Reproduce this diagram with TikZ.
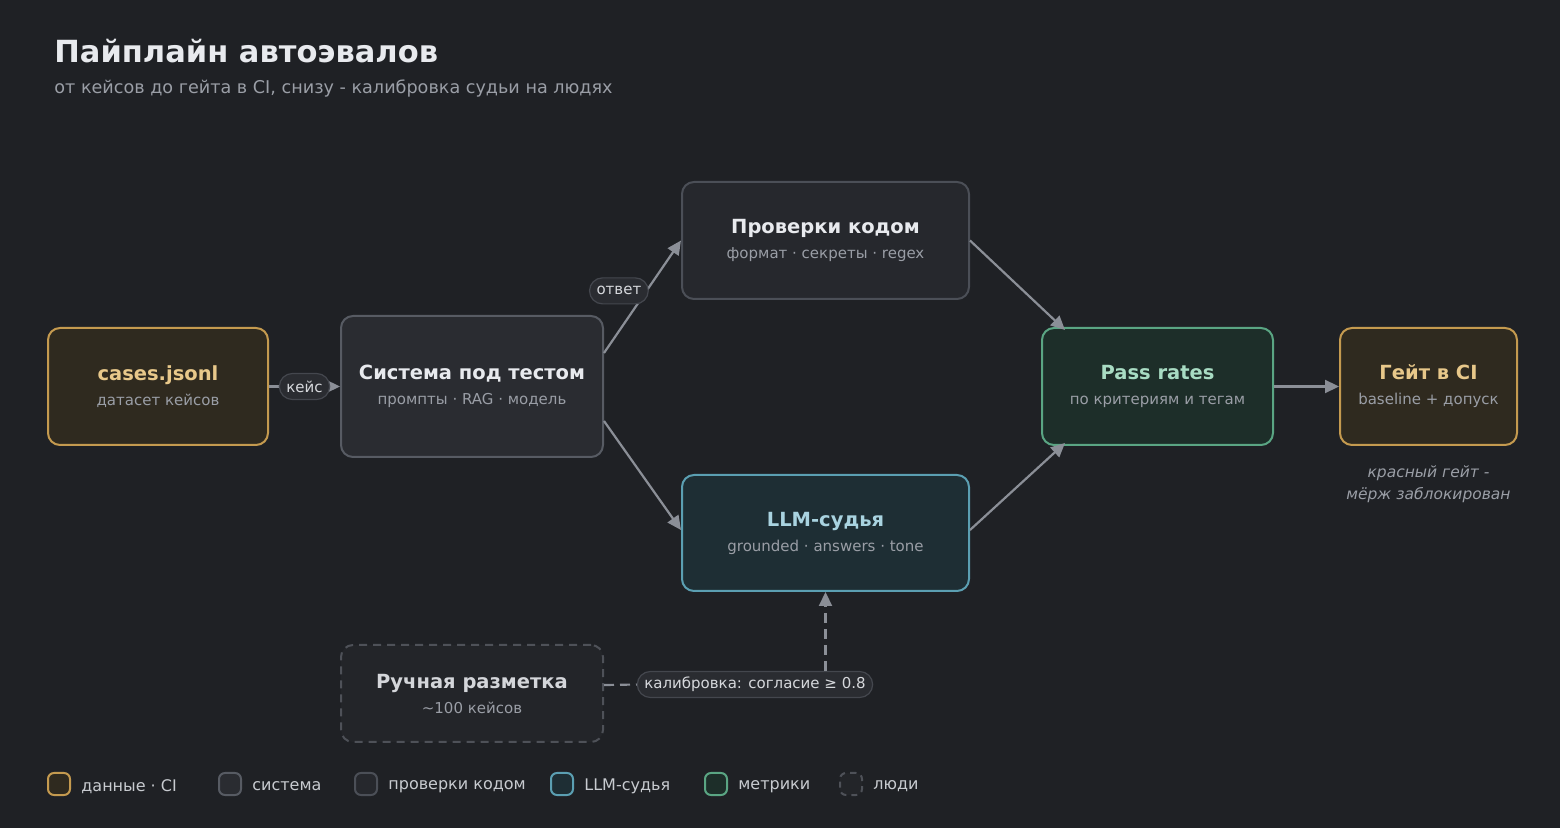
\documentclass[tikz,border=0pt]{standalone}
\usepackage{fontspec}
\setmainfont{DejaVu Sans}
\usepackage{xcolor}
\usepackage{tikz}
\usetikzlibrary{arrows.meta,positioning,calc}
\definecolor{eval-bg}{HTML}{1F2125}
\definecolor{eval-text}{HTML}{E8EAEE}
\definecolor{eval-sub}{HTML}{9A9EA6}
\definecolor{eval-line}{HTML}{8B8F97}
\definecolor{data-fill}{HTML}{2F2A1F}
\definecolor{data-draw}{HTML}{C49A4F}
\definecolor{data-text}{HTML}{E8C88A}
\definecolor{sys-fill}{HTML}{2A2C31}
\definecolor{sys-draw}{HTML}{575B63}
\definecolor{check-fill}{HTML}{26282D}
\definecolor{check-draw}{HTML}{4B4F57}
\definecolor{judge-fill}{HTML}{1E2E34}
\definecolor{judge-draw}{HTML}{5B9FB2}
\definecolor{judge-text}{HTML}{A9D3E0}
\definecolor{metric-fill}{HTML}{1D2E29}
\definecolor{metric-draw}{HTML}{5AA583}
\definecolor{metric-text}{HTML}{A8DCC3}
\definecolor{human-fill}{HTML}{232529}
\definecolor{human-draw}{HTML}{4E5158}
\definecolor{human-text}{HTML}{D4D6DA}
\definecolor{pill-fill}{HTML}{2A2C31}
\definecolor{pill-draw}{HTML}{44474E}
\definecolor{pill-text}{HTML}{D6D8DC}
\definecolor{key-text}{HTML}{C8CBD0}
\newcommand{\evalsub}[1]{{\fontsize{7.5pt}{12.5pt}\selectfont\mdseries\color{eval-sub}#1}}
\tikzset{
  eval-box/.style={rounded corners=6pt, line width=1pt, align=center, inner sep=0pt,
    font=\fontsize{9.75pt}{12.5pt}\selectfont\bfseries},
  eval-data/.style={eval-box, draw=data-draw, fill=data-fill, text=data-text},
  eval-sys/.style={eval-box, draw=sys-draw, fill=sys-fill, text=eval-text},
  eval-check/.style={eval-box, draw=check-draw, fill=check-fill, text=eval-text},
  eval-judge/.style={eval-box, draw=judge-draw, fill=judge-fill, text=judge-text},
  eval-metric/.style={eval-box, draw=metric-draw, fill=metric-fill, text=metric-text},
  eval-human/.style={eval-box, draw=human-draw, fill=human-fill, text=human-text,
    dash pattern=on 4pt off 3pt},
  eval-pill/.style={draw=pill-draw, fill=pill-fill, text=pill-text, line width=0.6pt,
    rounded corners=6.5pt, minimum height=13pt, inner xsep=3.5pt, inner ysep=0pt,
    font=\fontsize{7.5pt}{9pt}\selectfont},
  eval-arrow/.style={draw=eval-line, line width=1.1pt, -{Triangle[length=7pt, width=6.5pt]}},
  eval-dash/.style={draw=eval-line, line width=1.1pt, dash pattern=on 5pt off 3pt},
  eval-key/.style={minimum size=11pt, rounded corners=3pt, line width=1pt, inner sep=0pt},
  eval-key-text/.style={text=key-text, inner sep=0pt, yshift=-1.25pt, font=\fontsize{8pt}{10pt}\selectfont}
}

\begin{document}
\begin{tikzpicture}[x=0.5pt, y=-0.5pt]
  \fill[eval-bg] (0,0) rectangle (1560,828);
  \node[anchor=base west, inner sep=0pt, text=eval-text, font=\fontsize{15.25pt}{17pt}\selectfont\bfseries] (title) at (54,63) {Пайплайн автоэвалов};
  \node[anchor=base west, inner sep=0pt, text=eval-sub, font=\fontsize{8.8pt}{10pt}\selectfont] (subtitle) at (54,94) {от кейсов до гейта в CI, снизу - калибровка судьи на людях};
  % pipeline
  \node[eval-data, minimum width=110pt, minimum height=58.5pt] (cases) at (158,386.5) {cases.jsonl\\\evalsub{датасет кейсов}};
  \node[eval-sys, minimum width=131pt, minimum height=70.5pt] (sut) at (472,386.5) {Система под тестом\\\evalsub{промпты · RAG · модель}};
  \node[eval-check, minimum width=143.5pt, minimum height=58.5pt] (checks) at (825.5,240.5) {Проверки кодом\\\evalsub{формат · секреты · regex}};
  \node[eval-judge, minimum width=143.5pt, minimum height=58pt] (judge) at (825.5,533) {LLM-судья\\\evalsub{grounded · answers · tone}};
  \node[eval-metric, minimum width=115.5pt, minimum height=58.5pt] (rates) at (1157.5,386.5) {Pass rates\\\evalsub{по критериям и тегам}};
  \node[eval-data, minimum width=88.5pt, minimum height=58.5pt] (gate) at (1428.5,386.5) {Гейт в CI\\\evalsub{baseline + допуск}};
  \node[text=eval-sub, align=center, inner sep=0pt, font=\fontsize{7.75pt}{11pt}\selectfont\itshape] (gate-note) at (1428.5,484) {красный гейт -\\мёрж заблокирован};
  \node[eval-human, minimum width=131pt, minimum height=48.5pt] (labels) at (472,693.5) {Ручная разметка\\\evalsub{\textasciitilde100 кейсов}};
  \draw[eval-arrow] (cases) -- (sut) node[eval-pill, pos=0.5] {кейс};
  \draw[eval-arrow] ([yshift=16.75pt]sut.east) -- (checks.west) node[eval-pill, pos=0.57, xshift=-14.5pt, yshift=-1pt] {ответ};
  \draw[eval-arrow] ([yshift=-17.25pt]sut.east) -- ([yshift=1.5pt]judge.west);
  \draw[eval-arrow] (checks.east) -- ([xshift=12pt, yshift=-1.5pt]rates.north west);
  \draw[eval-arrow] ([yshift=1.5pt]judge.east) -- ([xshift=12pt, yshift=1.5pt]rates.south west);
  \draw[eval-arrow] (rates) -- (gate);
  % calibration
  \node[eval-pill] (calib) at (755,684.5) {калибровка: согласие ≥ 0.8};
  \draw[eval-dash] ([yshift=4.25pt]labels.east) -- (calib.west);
  \draw[eval-dash, -{Triangle[length=7pt, width=6.5pt]}] (judge.south |- calib.north) -- (judge.south);
  % legend
  \node[eval-key, draw=data-draw, fill=data-fill] (key-data) at (59,784) {};
  \node[eval-key-text, right=5pt of key-data] {данные · CI};
  \node[eval-key, draw=sys-draw, fill=sys-fill] (key-sys) at (230,784) {};
  \node[eval-key-text, right=5pt of key-sys] {система};
  \node[eval-key, draw=check-draw, fill=check-fill] (key-check) at (366,784) {};
  \node[eval-key-text, right=5pt of key-check] {проверки кодом};
  \node[eval-key, draw=judge-draw, fill=judge-fill] (key-judge) at (562,784) {};
  \node[eval-key-text, right=5pt of key-judge] {LLM-судья};
  \node[eval-key, draw=metric-draw, fill=metric-fill] (key-metric) at (716,784) {};
  \node[eval-key-text, right=5pt of key-metric] {метрики};
  \node[eval-key, draw=human-draw, fill=human-fill, dash pattern=on 3pt off 2.5pt] (key-human) at (851,784) {};
  \node[eval-key-text, right=5pt of key-human] {люди};
\end{tikzpicture}
\end{document}
